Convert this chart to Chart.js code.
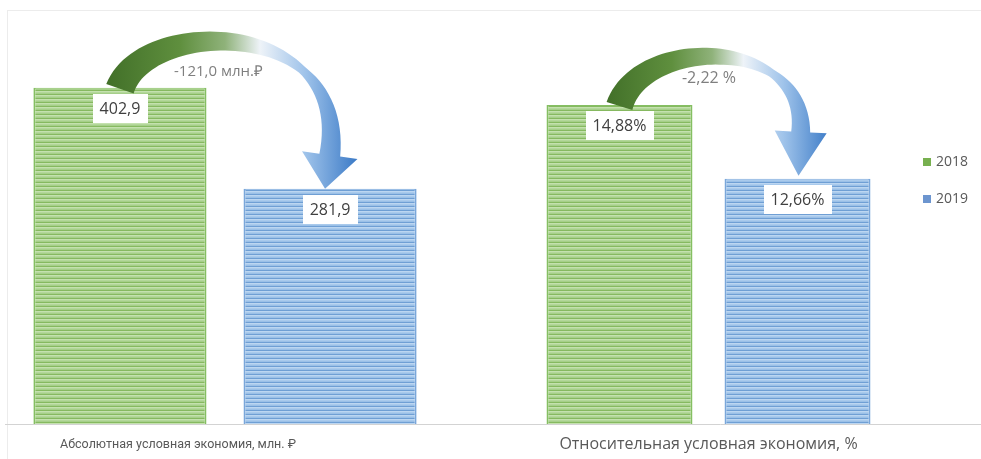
<!DOCTYPE html>
<html>
<head>
<meta charset="utf-8">
<script src="https://cdn.jsdelivr.net/npm/chart.js@4.4.1/dist/chart.umd.min.js"></script>
<style>
    html, body { margin: 0; padding: 0; background: #ffffff; }
    #wrap { position: relative; width: 981px; height: 459px; overflow: hidden; }
    #frame { position: absolute; left: 7px; top: 10px; right: -2px; bottom: -2px;
             border-top: 1px solid #ececec; border-left: 1px solid #ececec; }
    #absBox { position: absolute; left: 0; top: 0; width: 460px; height: 459px; }
    #relBox { position: absolute; left: 460px; top: 0; width: 521px; height: 459px; }
</style>
</head>
<body>
<div id="wrap">
    <div id="frame"></div>
    <div id="absBox"><canvas id="absChart" width="460" height="459"></canvas></div>
    <div id="relBox"><canvas id="relChart" width="521" height="459"></canvas></div>
</div>
<script>
// ===============================
// Data
// ===============================
const years = ["2018", "2019"];
const absCategory = ["Абсолютная условная экономия, млн. ₽"];
const relCategory = ["Относительная условная экономия, %"];
const absValues = [402.9, 281.9];
const relValues = [14.88, 12.66];
const absChangeLabel = "-121,0 млн.₽";
const relChangeLabel = "-2,22 %";

const legendColors = ["#77b04f", "#6c95cf"];
const stripeColors = [
    ["#b3d79a", "#a6cf8a", "#86b960", "#c4e1af"],
    ["#a9caec", "#9bc0e7", "#6f9fd4", "#bcd6f1"],
];
const edgeColors = ["#85bf62", "#7aa7da"];

const fmtAbs = (v) => v.toFixed(1).replace(".", ",");
const fmtRel = (v) => v.toFixed(2).replace(".", ",") + "%";

// striped fill like the original bars
function stripes(ctx, colors) {
    const c = document.createElement("canvas");
    c.width = 8;
    c.height = colors.length;
    const g = c.getContext("2d");
    colors.forEach((col, i) => {
        g.fillStyle = col;
        g.fillRect(0, i, 8, 1);
    });
    return ctx.createPattern(c, "repeat");
}

// ===============================
// Plugins
// ===============================
const baselinePlugin = {
    id: "baseline",
    beforeDatasetsDraw(chart, args, opts) {
        const { ctx, chartArea } = chart;
        ctx.save();
        ctx.strokeStyle = "#d3d3d3";
        ctx.lineWidth = 1;
        ctx.beginPath();
        ctx.moveTo(opts.from || 0, Math.round(chartArea.bottom) + 0.5);
        ctx.lineTo(chart.width, Math.round(chartArea.bottom) + 0.5);
        ctx.stroke();
        ctx.restore();
    },
};

function bez(a, b, c, d, t) {
    const u = 1 - t;
    return u * u * u * a + 3 * u * u * t * b + 3 * u * t * t * c + t * t * t * d;
}
function bezD(a, b, c, d, t) {
    const u = 1 - t;
    return 3 * u * u * (b - a) + 6 * u * t * (c - b) + 3 * t * t * (d - c);
}
const lerp = (a, b, t) => a + (b - a) * t;

function drawCurvedArrow(ctx, from, to, o) {
    const len = Math.hypot(o.tilt, 1);
    const dir = { x: o.tilt / len, y: 1 / len };
    const p3 = { x: to.x - dir.x * o.headLen, y: to.y - dir.y * o.headLen };
    const cy = from.y - o.rise;
    const p0 = from;
    const p1 = { x: from.x + o.lean, y: cy };
    const k = (p3.y - cy) / dir.y;
    const p2 = { x: p3.x - dir.x * k, y: cy };

    const width = (t) => {
        if (t < 0.5) return lerp(o.w[0], o.w[1], t / 0.5);
        if (t < 0.72) return lerp(o.w[1], o.w[2], (t - 0.5) / 0.22);
        return lerp(o.w[2], o.w[3], (t - 0.72) / 0.28);
    };

    const outer = [], inner = [];
    const N = 60;
    let nEnd = null;
    for (let i = 0; i <= N; i++) {
        const t = i / N;
        const x = bez(p0.x, p1.x, p2.x, p3.x, t);
        const y = bez(p0.y, p1.y, p2.y, p3.y, t);
        const dx = bezD(p0.x, p1.x, p2.x, p3.x, t);
        const dy = bezD(p0.y, p1.y, p2.y, p3.y, t);
        const dl = Math.hypot(dx, dy) || 1;
        const n = { x: dy / dl, y: -dx / dl };
        const w = width(t) / 2;
        outer.push([x + n.x * w, y + n.y * w]);
        inner.push([x - n.x * w, y - n.y * w]);
        if (i === N) nEnd = n;
    }

    const grad = ctx.createLinearGradient(from.x - 15, 0, to.x + 30, 0);
    grad.addColorStop(0, "#416f28");
    grad.addColorStop(0.3, "#5f8f3e");
    grad.addColorStop(0.48, "#8fb27a");
    grad.addColorStop(0.62, "#eef3f8");
    grad.addColorStop(0.8, "#9fc3ea");
    grad.addColorStop(1, "#3f7dc8");

    ctx.save();
    ctx.beginPath();
    outer.forEach(([x, y], i) => (i ? ctx.lineTo(x, y) : ctx.moveTo(x, y)));
    ctx.lineTo(p3.x + nEnd.x * o.headHalf, p3.y + nEnd.y * o.headHalf);
    ctx.lineTo(to.x, to.y);
    ctx.lineTo(p3.x - nEnd.x * o.headHalf, p3.y - nEnd.y * o.headHalf);
    for (let i = inner.length - 1; i >= 0; i--) ctx.lineTo(inner[i][0], inner[i][1]);
    ctx.closePath();
    ctx.fillStyle = grad;
    ctx.fill();
    ctx.restore();
}

const changeArrowPlugin = {
    id: "changeArrow",
    afterDatasetsDraw(chart, args, opts) {
        const a = chart.getDatasetMeta(0).data[0];
        const b = chart.getDatasetMeta(1).data[0];
        if (!a || !b) return;
        const { ctx } = chart;
        const from = { x: a.x, y: a.y + 1 };
        const to = { x: b.x + opts.tipDx, y: b.y + opts.tipDy };
        drawCurvedArrow(ctx, from, to, opts);

        ctx.save();
        ctx.font = `${opts.fontSize}px 'Open Sans', sans-serif`;
        ctx.fillStyle = "#7f7f7f";
        ctx.textAlign = "center";
        ctx.textBaseline = "middle";
        ctx.fillText(opts.text, (from.x + to.x) / 2 + opts.labelDx, a.y + opts.labelDy);
        ctx.restore();
    },
};

const valueLabelPlugin = {
    id: "valueLabels",
    afterDatasetsDraw(chart, args, opts) {
        const { ctx } = chart;
        ctx.save();
        ctx.font = `${opts.fontSize}px 'Open Sans', sans-serif`;
        ctx.textAlign = "center";
        ctx.textBaseline = "middle";
        chart.data.datasets.forEach((ds, i) => {
            chart.getDatasetMeta(i).data.forEach((bar, j) => {
                const text = opts.format(ds.data[j]);
                const w = ctx.measureText(text).width + 14;
                const h = 29;
                const top = bar.y + 6;
                ctx.fillStyle = "#ffffff";
                ctx.fillRect(Math.round(bar.x - w / 2), Math.round(top), Math.round(w), h);
                ctx.fillStyle = "#404040";
                ctx.fillText(text, bar.x, top + h / 2 + 1);
            });
        });
        ctx.restore();
    },
};

const sideLegendPlugin = {
    id: "sideLegend",
    afterDraw(chart, args, opts) {
        const { ctx } = chart;
        ctx.save();
        ctx.font = "14px 'Open Sans', sans-serif";
        ctx.textBaseline = "middle";
        chart.data.datasets.forEach((ds, i) => {
            const y = opts.y + i * opts.spacing;
            ctx.fillStyle = legendColors[i];
            ctx.fillRect(opts.x, y - 4, 8, 8);
            ctx.fillStyle = "#595959";
            ctx.fillText(ds.label, opts.x + 13, y);
        });
        ctx.restore();
    },
};

// ===============================
// Chart builder
// ===============================
function buildChart(canvasId, category, values, cfg) {
    const canvas = document.getElementById(canvasId);
    const ctx = canvas.getContext("2d");
    const plugins = [baselinePlugin, changeArrowPlugin, valueLabelPlugin];
    if (cfg.legend) plugins.push(sideLegendPlugin);

    return new Chart(ctx, {
        type: "bar",
        data: {
            labels: category,
            datasets: years.map((yr, i) => ({
                label: yr,
                data: [values[i]],
                backgroundColor: stripes(ctx, stripeColors[i]),
                borderColor: edgeColors[i],
                borderWidth: { left: 2, right: 2, top: 1, bottom: 0 },
                categoryPercentage: cfg.catPct,
                barPercentage: cfg.barPct,
            })),
        },
        options: {
            responsive: false,
            animation: false,
            events: [],
            layout: { padding: cfg.padding },
            plugins: {
                legend: { display: false },
                tooltip: { enabled: false },
                baseline: { from: cfg.lineFrom },
                changeArrow: cfg.arrow,
                valueLabels: { fontSize: 16, format: cfg.format },
                sideLegend: cfg.legend || {},
            },
            scales: {
                x: {
                    grid: { display: false, drawTicks: false },
                    border: { display: false },
                    ticks: {
                        color: "#595959",
                        font: { family: cfg.tickFamily, size: cfg.tickSize },
                        padding: cfg.tickPadding,
                        labelOffset: cfg.labelOffset,
                        maxRotation: 0,
                        minRotation: 0,
                    },
                    afterFit: (scale) => { scale.height = 35; },
                },
                y: { display: false, min: cfg.yMin, max: cfg.yMax },
            },
        },
        plugins: plugins,
    });
}

buildChart("absChart", absCategory, absValues, {
    padding: { left: 5, right: 15, top: 11, bottom: 0 },
    catPct: 0.955,
    barPct: 0.824,
    yMin: 0,
    yMax: 495,
    lineFrom: 5,
    tickFamily: "Roboto",
    tickSize: 12.5,
    tickPadding: 13,
    labelOffset: -47,
    format: fmtAbs,
    arrow: {
        text: absChangeLabel, fontSize: 15, labelDx: -4, labelDy: -16,
        tipDx: -5, tipDy: 0, tilt: -0.14, headLen: 34, headHalf: 28,
        rise: 72, lean: 25, w: [29, 17, 8, 21],
    },
});

buildChart("relChart", relCategory, relValues, {
    padding: { left: 17, right: 41, top: 11, bottom: 0 },
    catPct: 0.769,
    barPct: 0.82,
    yMin: 5.3,
    yMax: 17.7,
    lineFrom: 0,
    tickFamily: "Open Sans",
    tickSize: 16,
    tickPadding: 11,
    labelOffset: 0,
    format: fmtRel,
    arrow: {
        text: relChangeLabel, fontSize: 16, labelDx: 0, labelDy: -26,
        tipDx: 1, tipDy: -3, tilt: -0.05, headLen: 44, headHalf: 26,
        rise: 70, lean: 22, w: [27, 16, 8, 19],
    },
    legend: { x: 463, y: 162, spacing: 37 },
});
</script>
</body>
</html>
